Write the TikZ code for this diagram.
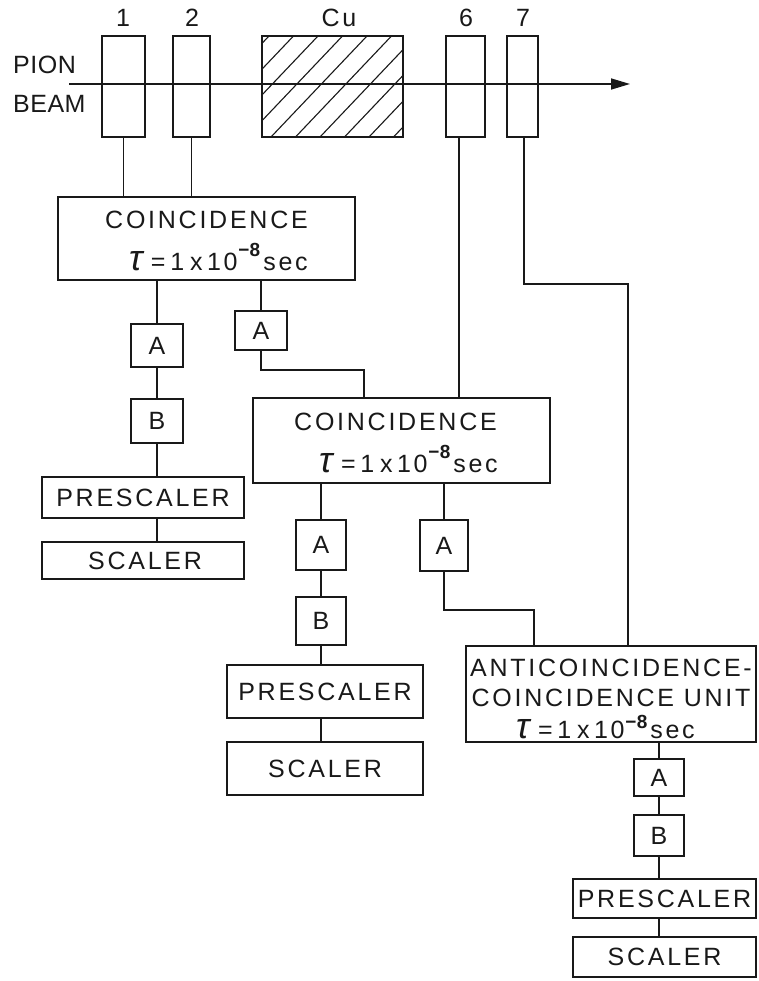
\documentclass[tikz,border=0pt]{standalone}
\usepackage{fontspec}
\setmainfont{Liberation Sans}
\newfontfamily\lblfont[LetterSpace=11]{Liberation Sans}
\newfontfamily\plainlbl[LetterSpace=2]{Liberation Sans}
\newfontfamily\taufont{Liberation Sans}
\usetikzlibrary{arrows.meta}
\newcommand{\taul}[1][14pt]{\makebox[19pt]{\taufont\itshape\fontsize{36}{29}\selectfont τ}\hspace{8pt}\makebox[10pt]{=}\hspace{9pt}\makebox[10pt]{1}\hspace{10pt}\makebox[8pt]{x}\hspace{9pt}\makebox[26pt]{10}\makebox[28pt]{\smash{\raisebox{#1}{\plainlbl\bfseries\fontsize{19}{19}\selectfont −8}}}sec}
\tikzset{x=1pt,y=-1pt,
  lab/.style={inner sep=0pt,font=\lblfont\fontsize{25}{30}\selectfont,align=center,text=black!90},
  boxn/.style={draw=black!90,line width=2.2pt,fill=white,inner sep=0pt,font=\lblfont\fontsize{25}{30}\selectfont,align=center,text=black!90},
  wire/.style={draw=black!90,line width=1.6pt}}
\newcommand{\bx}[6]{\node[boxn,minimum width=#4pt-#3pt,minimum height=#6pt-#5pt] (#1) at ({(#3+#4)/2},{(#5+#6)/2}) {#2};}
\begin{document}
\begin{tikzpicture}
\useasboundingbox (0,0) rectangle (758,981);
\fill[white] (0,0) rectangle (758,981);
\bx{d1}{}{102}{145}{36}{137}
\bx{d2}{}{173}{210}{36}{137}
\bx{cu}{}{262}{403}{36}{137}
\bx{d6}{}{446}{485}{36}{137}
\bx{d7}{}{507}{538}{36}{137}
\begin{scope}
\clip (262,36) rectangle (403,137);
\foreach \k in {-4,...,5} \draw[black!90,line width=1.1pt] ({271+24.5*\k},137) -- ({367+24.5*\k},36);
\end{scope}
\draw[black!90,line width=2.2pt] (262,36) rectangle (403,137);
\node[lab] (l1) at (123,17.5) {1};
\node[lab] (l2) at (192,17.5) {2};
\node[lab] (lc) at (339,17.5) {Cu};
\node[lab] (l6) at (466,17.5) {6};
\node[lab] (l7) at (523,17.5) {7};
\node[lab,font=\plainlbl\fontsize{25}{29}\selectfont,anchor=west] (pion) at (13,65) {PION};
\node[lab,font=\plainlbl\fontsize{25}{29}\selectfont,anchor=west] (bm) at (13,104) {BEAM};
\coordinate (bs) at (69,84);
\coordinate (be) at (630,84);
\draw[wire,-{Triangle[length=19pt,width=11pt]}] (bs) -- (be);
%
\bx{c1}{\rule{0pt}{22pt}COINCIDENCE\\[12pt]\hspace*{21pt}\taul}{58}{355}{197}{280}
\bx{a1}{A}{131}{183}{324}{367}
\bx{b1}{B}{131}{183}{399}{443}
\bx{p1}{PRESCALER}{42}{244}{477}{518}
\bx{s1}{\hspace*{4pt}SCALER}{42}{244}{542}{579}
\bx{a2}{A}{235}{287}{311}{350}
%
\bx{c2}{\rule{0pt}{22pt}\hspace*{-12pt}COINCIDENCE\\[12pt]\hspace*{11pt}\taul}{253}{550}{398}{483}
\bx{a3}{A}{296}{346}{520}{570}
\bx{b3}{B}{296}{346}{597}{645}
\bx{p3}{PRESCALER}{227}{423}{665}{718}
\bx{s3}{SCALER}{227}{423}{742}{795}
\bx{a4}{A}{420}{468}{520}{571}
%
\bx{c3}{\rule{0pt}{28pt}ANTICOINCIDENCE-\\COINCIDENCE UNIT\\[2pt]\hspace*{-14pt}\taul[10pt]}{466}{756}{646}{742}
\bx{a5}{A}{634}{684}{759}{796}
\bx{b5}{B}{634}{684}{815}{856}
\bx{p5}{PRESCALER}{573}{756}{879}{918}
\bx{s5}{SCALER}{573}{756}{937}{977}
%
\draw[wire] (d1.south) -- (d1.south |- c1.north);
\draw[wire] (d2.south) -- (d2.south |- c1.north);
\draw[wire] (a1.north |- c1.south) -- (a1.north);
\draw[wire] (a1) -- (b1);
\draw[wire] (b1.south) -- (b1.south |- p1.north);
\draw[wire] (b1.south |- p1.south) -- (b1.south |- s1.north);
\draw[wire] (a2.north |- c1.south) -- (a2.north);
\coordinate (e1) at (364,370);
\draw[wire] (a2.south) |- (e1) -- (e1 |- c2.north);
\coordinate (w6) at (459,137);
\draw[wire] (w6) -- (w6 |- c2.north);
\coordinate (w7) at (524,137);
\coordinate (e7) at (628,284);
\draw[wire] (w7) |- (e7) -- (e7 |- c3.north);
\draw[wire] (a3.north |- c2.south) -- (a3.north);
\draw[wire] (a3) -- (b3);
\draw[wire] (b3.south) -- (b3.south |- p3.north);
\draw[wire] (b3.south |- p3.south) -- (b3.south |- s3.north);
\draw[wire] (a4.north |- c2.south) -- (a4.north);
\coordinate (e4) at (534,610);
\draw[wire] (a4.south) |- (e4) -- (e4 |- c3.north);
\draw[wire] (a5.north |- c3.south) -- (a5.north);
\draw[wire] (a5) -- (b5);
\draw[wire] (b5.south) -- (b5.south |- p5.north);
\draw[wire] (b5.south |- p5.south) -- (b5.south |- s5.north);
\end{tikzpicture}
\end{document}
